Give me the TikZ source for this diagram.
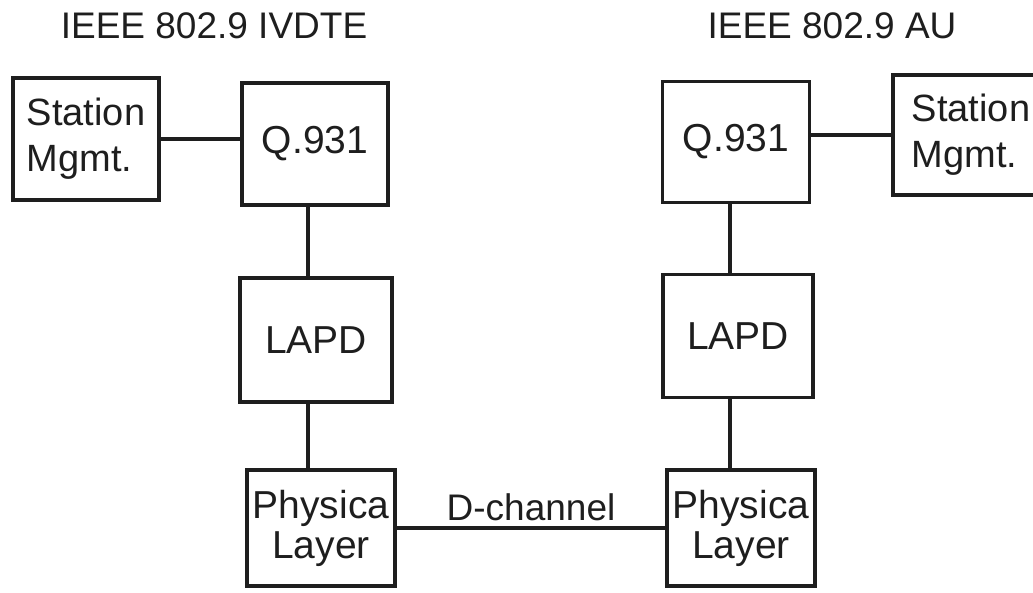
\documentclass[tikz,border=0pt]{standalone}
\usepackage{fontspec}
\setmainfont{Liberation Sans}
\usepackage{tikz}
\definecolor{ink}{RGB}{30,30,30}

\begin{document}
\begin{tikzpicture}[x=1pt,y=-1pt,line width=3.4pt,draw=ink,
    box/.style={draw=ink,rectangle,inner sep=0pt,align=center,text=ink,
      font=\fontsize{39}{40}\selectfont},
    title/.style={text=ink,inner sep=0pt,font=\fontsize{37}{40}\selectfont}]
            \clip (0,0) rectangle (1033,592);
            \node [title] (tL) at (214,26) {IEEE 802.9 IVDTE};
            \node [title] (tR) at (832,26) {IEEE 802.9 AU};
            \node [box,minimum width=146,minimum height=122,align=left,font=\fontsize{38}{46}\selectfont] (stL) at (86,139) {Station\\Mgmt.};
            \node [box,minimum width=146,minimum height=122] (qL) at (315,144) {Q.931};
            \node [box,minimum width=152,minimum height=124] (lapdL) at (316,340) {LAPD};
            \node [box,minimum width=148,minimum height=116] (phyL) at (321,528) {Physica\\Layer};
            \node [box,minimum width=147,minimum height=121] (qR) at (736,142) {Q.931};
            \node [box,minimum width=146,minimum height=120,align=left,font=\fontsize{38}{46}\selectfont] (stR) at (966,135) {\hspace*{10pt}Station\\\hspace*{10pt}Mgmt.};
            \node [box,minimum width=150,minimum height=123] (lapdR) at (738,336) {LAPD};
            \node [box,minimum width=148,minimum height=116] (phyR) at (741,528) {Physica\\Layer};
            \draw (stL.east) -- (stL.east -| qL.west);
            \draw (stR.west) -- (stR.west -| qR.east);
            \draw (qL.south -| 308,0) -- (lapdL.north -| 308,0);
            \draw (lapdL.south -| 308,0) -- (phyL.north -| 308,0);
            \draw (qR.south -| 730,0) -- (lapdR.north -| 730,0);
            \draw (lapdR.south -| 730,0) -- (phyR.north -| 730,0);
            \draw (phyL.east) -- (phyL.east -| phyR.west) node [title,midway,above=5pt] (dch) {D-channel};
\end{tikzpicture}
\end{document}
